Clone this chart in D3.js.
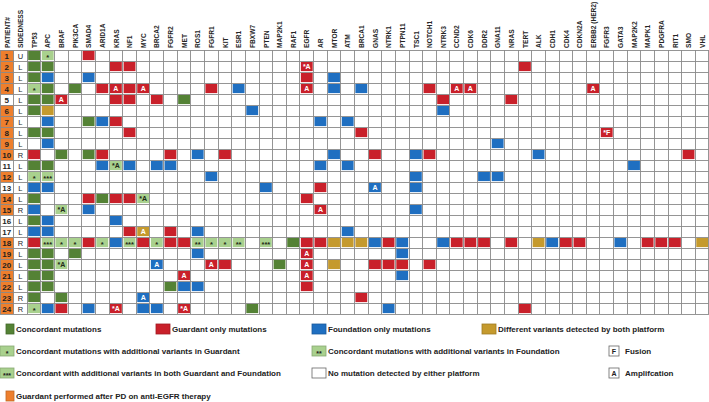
<!DOCTYPE html>
<html><head><meta charset="utf-8">
<script src="https://cdn.jsdelivr.net/npm/d3@7"></script>
<style>body{margin:0;background:#fff;overflow:hidden}</style>
</head><body><svg id="c" width="709" height="402"></svg>
<script>
const patients = ["1","2","3","4","5","6","7","8","9","10","11","12","13","14","15","16","17","18","19","20","21","22","23","24"];
const sidedness = ["U","L","L","L","L","L","L","L","L","R","L","L","L","L","R","L","L","R","L","L","L","L","R","R"];
const afterPD = [1,1,1,1,0,1,1,1,1,1,0,1,0,1,1,0,0,1,1,1,1,1,1,1];
const genes = ["TP53","APC","BRAF","PIK3CA","SMAD4","ARID1A","KRAS","NF1","MYC","BRCA2","FGFR2","MET","ROS1","FGFR1","KIT","ESR1","FBXW7","PTEN","MAP2K1","RAF1","EGFR","AR","MTOR","ATM","BRCA1","GNAS","NTRK1","PTPN11","TSC1","NOTCH1","NTRK3","CCND2","CDK6","DDR2","GNA11","NRAS","TERT","ALK","CDH1","CDK4","CDKN2A","ERBB2 (HER2)","FGFR3","GATA3","MAP2K2","MAPK1","PDGFRA","RIT1","SMO","VHL"];
// C concordant, G guardant only, F foundation only, D different variants,
// C1 concordant + extra in Guardant (*), C2 + extra in Foundation (**), C3 + extra in both (***)
const mutations = [
 ["1","TP53","C"],["1","APC","C1"],["1","SMAD4","G"],
 ["2","TP53","C"],["2","APC","C"],["2","KRAS","G"],["2","NF1","G"],["2","EGFR","G","*A"],["2","TERT","G"],
 ["3","TP53","C"],["3","APC","F"],["3","SMAD4","F"],["3","EGFR","G"],["3","MTOR","F"],
 ["4","TP53","C1"],["4","APC","C"],["4","PIK3CA","C"],["4","ARID1A","G"],["4","KRAS","G","A"],["4","NF1","G"],["4","MYC","G","A"],["4","FGFR1","G"],["4","ESR1","F"],["4","EGFR","G","A"],["4","MTOR","F"],["4","BRCA1","F"],["4","NOTCH1","G"],["4","CCND2","G","A"],["4","CDK6","G","A"],["4","ERBB2 (HER2)","G","A"],
 ["5","TP53","C"],["5","APC","C"],["5","BRAF","G","A"],["5","KRAS","G"],["5","NF1","G"],["5","BRCA2","G"],["5","MET","C"],["5","NTRK3","G"],["5","NRAS","G"],
 ["6","TP53","C"],["6","APC","D"],["6","FBXW7","F"],["6","NTRK3","F"],
 ["7","APC","F"],["7","SMAD4","C"],["7","ARID1A","F"],["7","KRAS","G"],["7","AR","F"],["7","ATM","F"],
 ["8","TP53","C"],["8","APC","C"],["8","NF1","G"],["8","BRCA1","G"],["8","FGFR3","G","*F"],
 ["9","APC","F"],["9","GNA11","F"],
 ["10","TP53","G"],["10","BRAF","C"],["10","SMAD4","C"],["10","ARID1A","G"],["10","FGFR2","G"],["10","ROS1","F"],["10","KIT","G"],["10","MTOR","F"],["10","GNAS","G"],["10","TSC1","F"],["10","NOTCH1","G"],["10","ALK","F"],["10","SMO","G"],
 ["11","TP53","C"],["11","APC","C"],["11","ARID1A","F"],["11","KRAS","C1","*A"],["11","NF1","F"],["11","BRCA2","F"],["11","FGFR2","F"],["11","AR","F"],["11","ATM","F"],["11","MAP2K2","F"],
 ["12","TP53","C1"],["12","APC","C3"],["12","FGFR1","F"],["12","TSC1","F"],["12","DDR2","F"],["12","GNA11","F"],
 ["13","TP53","F"],["13","APC","F"],["13","PTEN","F"],["13","AR","G"],["13","GNAS","F","A"],["13","TSC1","F"],
 ["14","TP53","C"],["14","SMAD4","G"],["14","ARID1A","C"],["14","KRAS","G"],["14","NF1","G"],["14","MYC","C1","*A"],["14","EGFR","G"],
 ["15","TP53","F"],["15","BRAF","C1","*A"],["15","SMAD4","F"],["15","AR","G","A"],["15","TSC1","F"],
 ["16","TP53","C"],["16","APC","F"],["16","KRAS","F"],
 ["17","TP53","F"],["17","APC","F"],["17","NF1","G"],["17","MYC","D","A"],["17","FGFR2","G"],["17","ROS1","F"],["17","ATM","F"],
 ["18","TP53","G"],["18","APC","C3"],["18","BRAF","C1"],["18","PIK3CA","C1"],["18","SMAD4","G"],["18","ARID1A","C1"],["18","KRAS","F"],["18","NF1","C3"],["18","MYC","G"],["18","BRCA2","C1"],["18","FGFR2","G"],["18","MET","G"],["18","ROS1","C2"],["18","FGFR1","C1"],["18","KIT","C1"],["18","ESR1","C2"],["18","PTEN","C3"],["18","RAF1","C"],["18","EGFR","G"],["18","AR","G"],["18","MTOR","D"],["18","ATM","D"],["18","BRCA1","D"],["18","GNAS","F"],["18","NTRK1","G"],["18","PTPN11","F"],["18","NTRK3","F"],["18","CCND2","G"],["18","CDK6","G"],["18","DDR2","G"],["18","NRAS","G"],["18","ALK","D"],["18","CDH1","F"],["18","CDK4","G"],["18","CDKN2A","G"],["18","GATA3","F"],["18","MAPK1","G"],["18","PDGFRA","G"],["18","RIT1","G"],["18","VHL","D"],
 ["19","TP53","C"],["19","APC","C"],["19","PIK3CA","C"],["19","ROS1","F"],["19","EGFR","G","A"],["19","PTPN11","F"],
 ["20","TP53","C"],["20","APC","C"],["20","BRAF","C1","*A"],["20","BRCA2","F","A"],["20","FGFR1","G","A"],["20","KIT","G"],["20","MAP2K1","C"],["20","EGFR","G","A"],["20","MTOR","D"],["20","GNAS","G"],["20","NTRK1","G"],["20","PTPN11","G"],["20","NOTCH1","G"],
 ["21","TP53","C"],["21","APC","C"],["21","MET","G","A"],["21","EGFR","G","A"],["21","PTPN11","F"],
 ["22","TP53","C"],["22","APC","C"],["22","FGFR2","C"],["22","MET","F"],["22","ROS1","F"],["22","EGFR","G"],
 ["23","TP53","C"],["23","BRAF","C"],["23","MYC","F","A"],["23","BRCA1","G"],
 ["24","TP53","C1"],["24","APC","F"],["24","BRAF","G"],["24","SMAD4","F"],["24","KRAS","G","*A"],["24","MYC","F"],["24","BRCA2","F"],["24","MET","G","*A"],["24","FBXW7","C"],["24","NTRK1","F"],["24","TERT","G"]
];
const legendRow1 = [["C","Concordant mutations"],["G","Guardant only mutations"],["F","Foundation only mutations"],["D","Different variants detected by both platform"]];
const legendRow2 = [["C1","Concordant mutations with additional variants in Guardant"],["C2","Concordant mutations with additional variants in Foundation"],["FUS","Fusion"]];
const legendRow3 = [["C3","Concordant with additional variants in both Guardant and Foundation"],["NONE","No mutation detected by either platform"],["AMP","Amplifcation"]];
const legendRow4 = [["PD","Guardant performed after PD on anti-EGFR therapy"]];

const fill = {C:"#548235",C1:"#a9d18e",C2:"#a9d18e",C3:"#a9d18e",G:"#c9202a",F:"#1f6fc1",D:"#c59a2d",PD:"#ee7f2d",NONE:"#ffffff",FUS:"#ffffff",AMP:"#ffffff"};
const stars = {C1:"*",C2:"**",C3:"***"};
const FONT = "'Liberation Sans', Arial, sans-serif";
const NARROW = "'Liberation Sans Narrow', 'Arial Narrow', 'Liberation Sans', sans-serif";

const svg = d3.select("#c");
const cols = ["PATIENT#","SIDEDNESS"].concat(genes);
const x = d3.scaleBand().domain(cols).range([0,709]);
const y = d3.scaleBand().domain(patients).range([50,314]);
const bw = x.bandwidth(), bh = y.bandwidth();

// patient column fill
svg.append("g").selectAll("rect").data(patients).join("rect")
  .attr("x", x("PATIENT#")).attr("y", d=>y(d)).attr("width", bw).attr("height", bh)
  .attr("fill", (d,i)=> afterPD[i] ? fill.PD : "#fff");

// mutation cells
const inset = 0.9;
svg.append("g").selectAll("rect").data(mutations).join("rect")
  .attr("x", d=>x(d[1])+inset).attr("y", d=>y(d[0])+inset)
  .attr("width", bw-2*inset).attr("height", bh-2*inset)
  .attr("fill", d=>fill[d[2]]);

// grid
const grid = svg.append("g").attr("stroke","#8a8a8a").attr("stroke-width",0.9).attr("shape-rendering","crispEdges");
grid.selectAll("line.v").data(cols.concat(["_end"])).join("line").attr("class","v")
  .attr("x1", d=> d==="_end" ? 708.5 : x(d)).attr("x2", d=> d==="_end" ? 708.5 : x(d))
  .attr("y1", 50).attr("y2", 314);
grid.selectAll("line.h").data(patients.concat(["_end"])).join("line").attr("class","h")
  .attr("y1", d=> d==="_end" ? 314 : y(d)).attr("y2", d=> d==="_end" ? 314 : y(d))
  .attr("x1", 0).attr("x2", 709);

// header labels
svg.append("g").selectAll("text").data(cols).join("text")
  .attr("transform", d=>`translate(${x(d)+bw/2+0.2},48) rotate(-90)`)
  .attr("dominant-baseline","central")
  .attr("font-family", FONT).attr("font-weight","bold").attr("font-size", 6.6)
  .attr("fill","#262626").text(d=>d);

// patient numbers and sidedness
svg.append("g").selectAll("text").data(patients).join("text")
  .attr("x", x("PATIENT#")+bw/2).attr("y", d=>y(d)+bh/2+0.5)
  .attr("text-anchor","middle").attr("dominant-baseline","central")
  .attr("font-family", FONT).attr("font-size", 8).attr("font-weight","bold").attr("fill","#1e1e1e").text(d=>d);
svg.append("g").selectAll("text").data(sidedness).join("text")
  .attr("x", x("SIDEDNESS")+bw/2).attr("y", (d,i)=>y(patients[i])+bh/2+0.5)
  .attr("text-anchor","middle").attr("dominant-baseline","central")
  .attr("font-family", FONT).attr("font-size", 7.5).attr("fill","#1e1e1e").text(d=>d);

// cell labels
function cellText(d){ return d[3] || stars[d[2]] || ""; }
svg.append("g").selectAll("text").data(mutations.filter(d=>cellText(d))).join("text")
  .attr("x", d=>x(d[1])+bw/2).attr("y", d=>y(d[0])+bh/2+ (d[3] ? 0.3 : 2.2))
  .attr("text-anchor","middle").attr("dominant-baseline","central")
  .attr("font-family", FONT).attr("font-weight","bold")
  .attr("font-size", d=> d[3] ? 7 : 7.5)
  .attr("fill", d=> d[2].startsWith("C") && d[2]!=="C" ? "#1f2a17" : "#ffffff")
  .text(cellText);

// legend
const legend = svg.append("g");
const colX = [0,156,312,482,609];
const rowY = [324,346,368,391];
function addItem(item, col, row){
  const [key, label] = item;
  const yy = rowY[row];
  let sx = colX[col], sw = 14;
  if (key==="FUS" || key==="AMP"){ sw = 10; }
  if ((key==="C" || key==="PD") && col===0){ sx = 6; sw = 8; }
  legend.append("rect").attr("x", sx).attr("y", yy).attr("width", sw).attr("height", 10)
    .attr("fill", fill[key])
    .attr("stroke", key==="FUS"||key==="AMP"||key==="NONE" ? "#666" : d3.color(fill[key]).darker(0.6))
    .attr("stroke-width", 0.8);
  const inner = key==="FUS" ? "F" : key==="AMP" ? "A" : (stars[key]||"");
  if (inner) legend.append("text").attr("x", sx+sw/2).attr("y", yy+5+(stars[key]?2:0.3))
    .attr("text-anchor","middle").attr("dominant-baseline","central")
    .attr("font-family", FONT).attr("font-weight","bold").attr("font-size", 7)
    .attr("fill","#222").text(inner);
  legend.append("text").attr("x", sx+sw+ (sw===10?6:2)).attr("y", yy+5.3)
    .attr("dominant-baseline","central")
    .attr("font-family", NARROW).attr("font-weight","bold").attr("font-size", 8)
    .attr("fill","#222").text(label);
}
legendRow1.forEach((it,i)=>addItem(it, i, 0));
legendRow2.forEach((it,i)=>addItem(it, [0,2,4][i], 1));
legendRow3.forEach((it,i)=>addItem(it, [0,2,4][i], 2));
legendRow4.forEach((it,i)=>addItem(it, 0, 3));
</script></body></html>
